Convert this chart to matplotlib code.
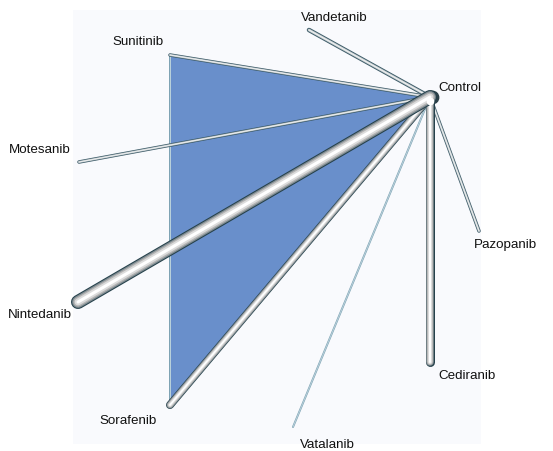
import matplotlib
matplotlib.use("Agg")
import matplotlib.pyplot as plt
from matplotlib.patches import Polygon, Rectangle

# Network nodes (layout coordinates) and labels
nodes = ["Control", "Vandetanib", "Sunitinib", "Motesanib", "Nintedanib",
         "Sorafenib", "Vatalanib", "Cediranib", "Pazopanib"]
node_x = [430, 309, 170, 79, 78, 170, 293, 430, 479]
node_y = [97, 30, 55, 162, 302, 405, 427, 362, 231]

label_x = [460, 334, 138, 40, 40, 128, 327, 467, 505]
label_y = [88, 18, 42, 150, 315, 421, 445, 376, 245]

# Direct comparisons (edge weight ~ amount of evidence)
edge_from = ["Control", "Control", "Control", "Control", "Control",
             "Control", "Control", "Control", "Sunitinib"]
edge_to = ["Nintedanib", "Cediranib", "Sorafenib", "Vandetanib", "Sunitinib",
           "Motesanib", "Pazopanib", "Vatalanib", "Sorafenib"]
edge_weight = [14, 9, 8, 4.5, 3.5, 3.5, 3.5, 2, 2]

# Closed loop of the network
loop = ["Sunitinib", "Sorafenib", "Control"]

pos = {n: (x, y) for n, x, y in zip(nodes, node_x, node_y)}

W, H = 553, 451
fig = plt.figure(figsize=(W / 100, H / 100), dpi=100)
ax = fig.add_axes([0, 0, 1, 1])
ax.set_xlim(0, W)
ax.set_ylim(H, 0)
ax.axis("off")

ax.add_patch(Rectangle((73, 10), 408, 434, facecolor="#f9fafd",
                       edgecolor="none", zorder=0))

ax.add_patch(Polygon([pos[n] for n in loop], closed=True,
                     facecolor="#698fcb", edgecolor="none", zorder=1))

px_to_pt = 72 / 100


def tube(p, q, w, z):
    xs = [p[0], q[0]]
    ys = [p[1], q[1]]
    if w <= 2:
        layers = [(1.0, "#7fa3b4"), (0.5, "#b8d0da")]
    elif w <= 5:
        layers = [(1.0, "#3b5966"), (0.6, "#b9c4c8"), (0.25, "#f2f2f2")]
    else:
        layers = [(1.0, "#26414b"), (0.85, "#7d8a90"), (0.68, "#b4b4b4"),
                  (0.48, "#dcdcdc"), (0.22, "#ffffff")]
    for frac, col in layers:
        ax.plot(xs, ys, color=col, lw=w * frac * px_to_pt,
                solid_capstyle="round", zorder=z)


order = sorted(range(len(edge_from)), key=lambda i: edge_weight[i])
for k, i in enumerate(order):
    tube(pos[edge_from[i]], pos[edge_to[i]], edge_weight[i], 2 + k * 0.01)

# Hub node
cx, cy = pos["Control"]
ax.scatter([cx + 2], [cy], s=80, color="#2a3f47", zorder=1.9)
ax.scatter([cx], [cy + 4], s=20, color="#ffffff", zorder=3)

for n, lx, ly in zip(nodes, label_x, label_y):
    ax.text(lx, ly, n, ha="center", va="center", fontsize=9.6,
            family="Liberation Sans", color="#111111", zorder=4)

fig.savefig("out.png", dpi=100, facecolor="white")
